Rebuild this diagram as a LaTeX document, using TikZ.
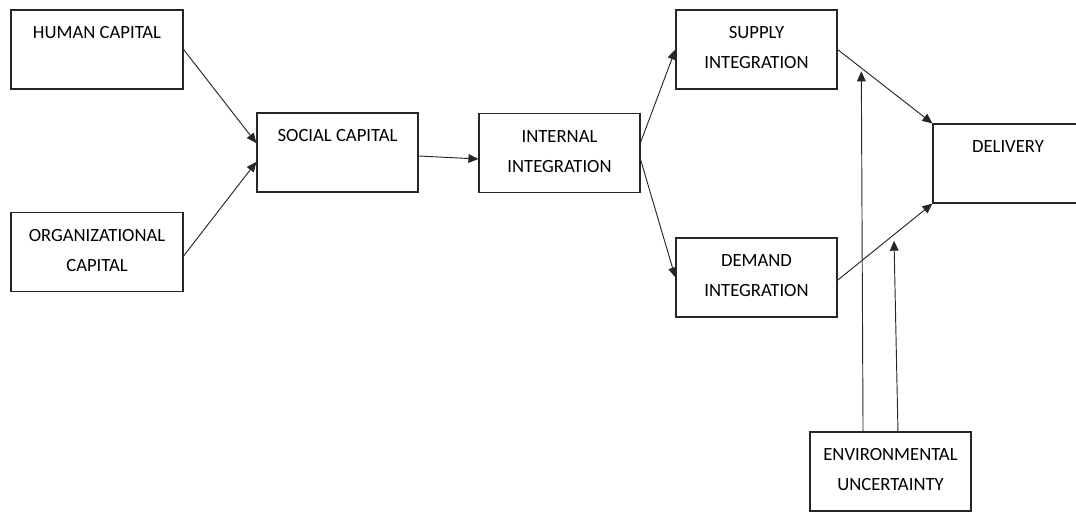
\documentclass[tikz,border=0pt]{standalone}
\usepackage{fontspec}
\setmainfont{Carlito}
\usetikzlibrary{arrows.meta}

\begin{document}
\begin{tikzpicture}[x=0.75pt,y=-0.75pt,
	box/.style={draw=black!85,line width=0.9pt,minimum width=120.75pt,minimum height=59.25pt,inner sep=0pt},
	lbl/.style={anchor=north,inner sep=0pt,align=center,font=\fontsize{14}{22.5}\selectfont},
	link/.style={draw=black!85,line width=0.7pt,-{Triangle[length=7.5pt,width=6.5pt]}}]

	\useasboundingbox (0,0) rectangle (1076,512);
	\clip (0,0) rectangle (1076,512);

	\node[box,minimum width=129pt] (human) at (97,49.5) {};
	\node[box,minimum width=129pt] (org) at (97,252) {};
	\node[box] (social) at (337.5,152.5) {};
	\node[box] (internal) at (559.5,153) {};
	\node[box] (supply) at (756.5,49.5) {};
	\node[box] (demand) at (756.5,277.5) {};
	\node[box,minimum width=112.5pt] (delivery) at (1008,163.5) {};
	\node[box] (env) at (890.5,471.5) {};

	\node[lbl] (humantxt) at ([yshift=-12.75pt]human.north) {HUMAN CAPITAL};
	\node[lbl] (orgtxt) at ([yshift=-12.75pt]org.north) {ORGANIZATIONAL\\CAPITAL};
	\node[lbl] (socialtxt) at ([yshift=-12.75pt]social.north) {SOCIAL CAPITAL};
	\node[lbl] (internaltxt) at ([yshift=-12.75pt]internal.north) {INTERNAL\\INTEGRATION};
	\node[lbl] (supplytxt) at ([yshift=-12.75pt]supply.north) {SUPPLY\\INTEGRATION};
	\node[lbl] (demandtxt) at ([yshift=-12.75pt]demand.north) {DEMAND\\INTEGRATION};
	\node[lbl] (deliverytxt) at ([yshift=-12.75pt]delivery.north) {DELIVERY};
	\node[lbl] (envtxt) at ([yshift=-12.75pt]env.north) {ENVIRONMENTAL\\UNCERTAINTY};

	\draw[link] (human.east) -- ([yshift=7pt]social.west);
	\draw[link] ([yshift=-3pt]org.east) -- ([yshift=-7pt]social.west);
	\draw[link] ([yshift=-2.6pt]social.east) -- ([yshift=-4.5pt]internal.west);
	\draw[link] ([yshift=8pt]internal.east) -- (supply.west);
	\draw[link] ([yshift=-5pt]internal.east) -- (demand.west);
	\draw[link] (supply.east) -- (delivery.north west) coordinate[pos=0.25] (s1);
	\draw[link] ([yshift=-2pt]demand.east) -- (delivery.south west) coordinate[pos=0.594] (s2);

	\draw[link,shorten >=2.5pt] ([xshift=-20.6pt]env.north) -- (s1);
	\draw[link,shorten >=4.5pt] ([xshift=5.6pt]env.north) -- (s2);

\end{tikzpicture}
\end{document}
